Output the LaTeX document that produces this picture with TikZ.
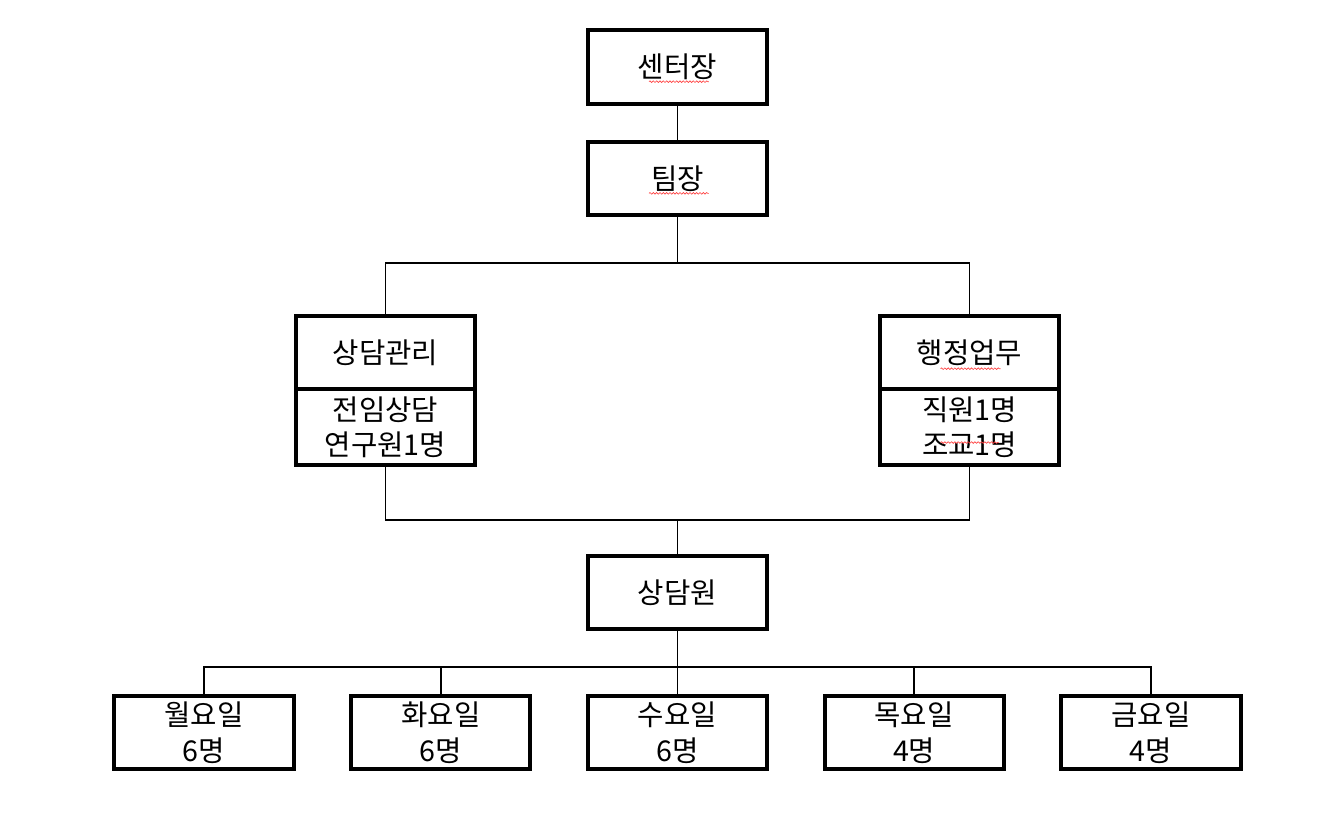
\documentclass[tikz,border=0pt]{standalone}
\usepackage{fontspec}
\setmainfont{Noto Sans CJK KR}
\usetikzlibrary{positioning, decorations.pathmorphing, calc}

\begin{document}
\begin{tikzpicture}[
  font=\fontsize{21.5pt}{26.5pt}\selectfont,
  node distance=26pt and 40pt,
  orgbox/.style={
    draw=black, line width=3pt, minimum width=134.5pt, minimum height=54.75pt,
    align=center, inner sep=2pt
  },
  detail/.style={orgbox, minimum height=57pt},
  link/.style={line width=1.2pt, draw=black},
  typo/.style={draw=red!75, line width=0.5pt, decorate,
    decoration={snake, amplitude=0.6pt, segment length=2.5pt}},
]
\useasboundingbox (-508.1pt,-567.75pt) rectangle (493.1pt,50.25pt);

\node[orgbox] (head) {센터장};
\node[orgbox, below=of head] (team) {팀장};
\coordinate[below=34.5pt of team] (split);

\node[orgbox, below=72.75pt of team, xshift=-219pt] (counsel) {상담관리};
\node[detail, below=-3pt of counsel] (counselstaff) {전임상담\\연구원1명};

\node[orgbox, below=72.75pt of team, xshift=219pt] (admin) {행정업무};
\node[detail, below=-3pt of admin] (adminstaff) {직원1명\\조교1명};

\node[orgbox, below=252.75pt of team] (advisor) {상담원};
\coordinate[above=25.5pt of advisor] (merge);
\coordinate[below=27pt of advisor] (days);

\node[orgbox, below=47.25pt of advisor] (wed) {수요일\\6명};
\node[orgbox, left=of wed] (tue) {화요일\\6명};
\node[orgbox, left=of tue] (mon) {월요일\\6명};
\node[orgbox, right=of wed] (thu) {목요일\\4명};
\node[orgbox, right=of thu] (fri) {금요일\\4명};

\draw[link] (head) -- (team);
\draw[link] (team) -- (split);
\draw[link] (counsel.north) |- (split) -| (admin.north);
\draw[link] (counselstaff.south) |- (merge) -| (adminstaff.south);
\draw[link] (merge) -- (advisor);
\draw[link] (advisor) -- (days);
\foreach \d in {mon, tue, wed, thu, fri}
  \draw[link] (days) -| (\d.north);

% spell-check marks
\draw[typo] ($(head.center)+(-21.4pt,-11pt)$) -- ++(45pt,0);
\draw[typo] ($(team.center)+(-21.4pt,-11pt)$) -- ++(45pt,0);
\draw[typo] ($(admin.center)+(-21.75pt,-12pt)$) -- ++(45pt,0);
\draw[typo] ($(adminstaff.center)+(-21.75pt,-11.5pt)$) -- ++(43.5pt,0);

\end{tikzpicture}
\end{document}
